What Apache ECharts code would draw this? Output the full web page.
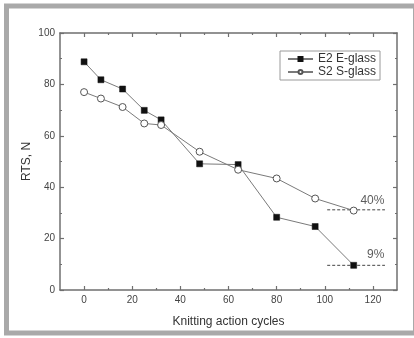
<!DOCTYPE html>
<html>
<head>
<meta charset="utf-8">
<script src="https://cdn.jsdelivr.net/npm/echarts@6/dist/echarts.min.js"></script>
<style>
html,body{margin:0;padding:0;background:#fff;}
#c{width:414px;height:338px;}
</style>
</head>
<body>
<div id="c"></div>
<script>
// Data
var cycles = [0, 7, 16, 25, 32, 48, 64, 80, 96, 112];
var e2Values = [88.8, 81.8, 78.2, 69.9, 66.2, 49.1, 48.8, 28.3, 24.7, 9.6];
var s2Values = [77.0, 74.5, 71.2, 64.8, 64.2, 53.8, 46.8, 43.4, 35.6, 30.9];
var seriesNames = ['E2 E-glass', 'S2 S-glass'];
var xMajorTicks = [0, 20, 40, 60, 80, 100, 120];
var xMinorTicks = [10, 30, 50, 70, 90, 110];
var retention40 = [[101, 31.2], [125, 31.2]];
var retention9 = [[101, 9.6], [125, 9.6]];
var retentionLabels = ['40%', '9%'];

function pairs(xs, ys) { return xs.map(function (x, i) { return [x, ys[i]]; }); }

var axisColor = '#6f6f6f';
var textColor = '#444';
var font = 'Liberation Sans, Arial, sans-serif';

function xAxisDef(pos, ticks, len, showLine, showLabels, extra) {
  var a = {
    type: 'value', position: pos, min: -10, max: 130, gridIndex: 0,
    axisLine: { show: showLine, onZero: false, lineStyle: { color: axisColor, width: 1.5 } },
    axisTick: { show: true, inside: true, length: len, customValues: ticks, lineStyle: { color: axisColor, width: 1.2 } },
    axisLabel: { show: showLabels, customValues: ticks, fontSize: 10, color: textColor, fontFamily: font, margin: 5 },
    splitLine: { show: false }
  };
  if (extra) for (var k in extra) a[k] = extra[k];
  return a;
}
function yAxisDef(pos, showLabels, extra) {
  var a = {
    type: 'value', position: pos, min: 0, max: 100, interval: 20,
    axisLine: { show: true, onZero: false, lineStyle: { color: axisColor, width: 1.5 } },
    axisTick: { show: true, inside: true, length: 4, lineStyle: { color: axisColor, width: 1.2 } },
    minorTick: { show: true, splitNumber: 2, length: 2, lineStyle: { color: axisColor, width: 1.2 } },
    axisLabel: { show: showLabels, fontSize: 10, color: textColor, fontFamily: font, margin: 5 },
    splitLine: { show: false }
  };
  if (extra) for (var k in extra) a[k] = extra[k];
  return a;
}

function dashSeries(name, pts) {
  return {
    name: name, type: 'line', data: pts, symbol: 'none', silent: true,
    lineStyle: { color: '#444', width: 1, type: [3, 2] }, z: 2
  };
}
function pctSeries(name, pt, text, dy) {
  return {
    name: name, type: 'scatter', data: [pt], symbolSize: 1, silent: true,
    itemStyle: { color: 'rgba(0,0,0,0)' },
    label: {
      show: true, formatter: text, position: 'left', distance: 0, offset: [0, dy],
      fontSize: 12, color: '#333', fontFamily: font
    }, z: 4
  };
}

var chart = echarts.init(document.getElementById('c'), null, { renderer: 'canvas' });
chart.setOption({
  backgroundColor: '#fff',
  animation: false,
  graphic: [{
    type: 'rect', silent: true, z: -1,
    shape: { x: 6.5, y: 6, width: 409, height: 327 },
    style: { fill: 'none', stroke: '#a9a9a9', lineWidth: 5 }
  }],
  grid: { left: 60, right: 17, top: 33, bottom: 48, containLabel: false },
  legend: {
    data: seriesNames,
    orient: 'vertical', left: 280, top: 51,
    itemWidth: 25, itemHeight: 5, itemGap: 1,
    padding: [2, 4, 2, 7],
    borderColor: '#9a9a9a', borderWidth: 1,
    textStyle: { fontSize: 12, color: '#333', fontFamily: font }
  },
  xAxis: [
    xAxisDef('bottom', xMajorTicks, 4, true, true, {
      name: 'Knitting action cycles', nameLocation: 'middle', nameGap: 26,
      nameTextStyle: { fontSize: 12, color: '#333', fontFamily: font }
    }),
    xAxisDef('bottom', xMinorTicks, 2, false, false),
    xAxisDef('top', xMajorTicks, 4, true, false),
    xAxisDef('top', xMinorTicks, 2, false, false)
  ],
  yAxis: [
    yAxisDef('left', true, {
      name: 'RTS, N', nameLocation: 'middle', nameGap: 27, nameMoveOverlap: false,
      nameTextStyle: { fontSize: 12, color: '#333', fontFamily: font }
    }),
    yAxisDef('right', false)
  ],
  series: [
    {
      name: seriesNames[0], type: 'line', data: pairs(cycles, e2Values),
      symbol: 'rect', symbolSize: 6,
      lineStyle: { color: '#7a7a7a', width: 1 },
      itemStyle: { color: '#111', borderColor: '#111', borderWidth: 0.5 },
      z: 3
    },
    {
      name: seriesNames[1], type: 'line', data: pairs(cycles, s2Values),
      symbol: 'circle', symbolSize: 7,
      lineStyle: { color: '#7a7a7a', width: 1 },
      itemStyle: { color: '#fff', borderColor: '#555', borderWidth: 1 },
      z: 3
    },
    dashSeries('r40', retention40),
    dashSeries('r9', retention9),
    pctSeries('l40', retention40[1], retentionLabels[0], -9),
    pctSeries('l9', retention9[1], retentionLabels[1], -11)
  ]
});
</script>
</body>
</html>
